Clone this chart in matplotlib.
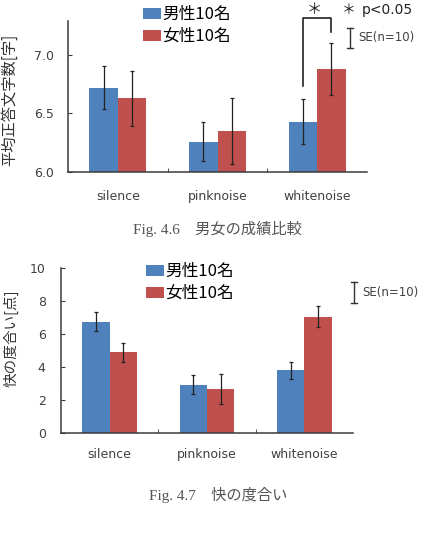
"""Recreate Fig. 4.6 / 4.7: gender comparison bar charts with SE error bars."""

import matplotlib

matplotlib.use("Agg")
import matplotlib.pyplot as plt
from matplotlib.lines import Line2D
import numpy as np

plt.rcParams["font.family"] = ["DejaVu Sans", "Noto Sans CJK JP"]

conditions = ["silence", "pinknoise", "whitenoise"]
groups = ["男性10名", "女性10名"]

# Fig. 4.6 mean correct characters
score_male = [6.72, 6.26, 6.43]
score_male_se = [0.18, 0.17, 0.19]
score_female = [6.63, 6.35, 6.88]
score_female_se = [0.235, 0.28, 0.22]

# Fig. 4.7 comfort level
comfort_male = [6.75, 2.92, 3.81]
comfort_male_se = [0.58, 0.57, 0.52]
comfort_female = [4.89, 2.64, 7.06]
comfort_female_se = [0.59, 0.92, 0.62]

BLUE = "#4F81BD"
RED = "#C0504D"
AXIS = "#3a3a3a"
TEXT = "#404040"
W, H = 428, 536


def fx(px):
    return px / W


def fy(py):
    return 1 - py / H


def bar_panel(ax, male, male_se, female, female_se, width, ylim, yticks, yfmt):
    x = np.arange(len(conditions))
    err_kw = dict(ecolor="#222222", elinewidth=0.9, capsize=1.6, capthick=0.9)
    ax.bar(x - width / 2, male, width, color=BLUE, label=groups[0], zorder=2)
    ax.bar(x + width / 2, female, width, color=RED, label=groups[1], zorder=2)
    for xs, ys, es in ((x - width / 2, male, male_se), (x + width / 2, female, female_se)):
        _, caps, bars = ax.errorbar(xs, ys, yerr=es, fmt="none", zorder=3, **err_kw)
        for art in list(caps) + list(bars):
            art.set_clip_on(False)
    ax.set_xlim(-0.5, 2.5)
    ax.set_ylim(*ylim)
    ax.set_yticks(yticks)
    ax.set_yticklabels([yfmt.format(v) for v in yticks])
    ax.set_xticks(x)
    ax.set_xticklabels(conditions)
    ax.set_xticks([0.5, 1.5], minor=True)
    for side in ("top", "right"):
        ax.spines[side].set_visible(False)
    for side in ("left", "bottom"):
        ax.spines[side].set_color(AXIS)
        ax.spines[side].set_linewidth(1.1)
    ax.tick_params(axis="x", which="major", length=0, labelsize=9, colors=TEXT)
    ax.tick_params(axis="x", which="minor", direction="in", length=3, color=AXIS)
    ax.tick_params(axis="y", direction="in", length=3, color=AXIS, labelsize=9, labelcolor=TEXT)


def se_marker(fig, x, y0, y1, label):
    cap = 3.0
    for xs, ys in (([x, x], [y0, y1]), ([x - cap, x + cap], [y0, y0]), ([x - cap, x + cap], [y1, y1])):
        fig.add_artist(Line2D([fx(v) for v in xs], [fy(v) for v in ys],
                              transform=fig.transFigure, color="#333333", lw=1.0))
    fig.text(fx(x + 8), fy((y0 + y1) / 2), label, fontsize=8.5, color=TEXT, va="center", ha="left")


fig = plt.figure(figsize=(W / 100, H / 100), dpi=100)

# --- Fig. 4.6 ---
ax1 = fig.add_axes([fx(68), fy(172), fx(367 - 68), (172 - 20.7) / H])
bar_panel(ax1, score_male, score_male_se, score_female, score_female_se,
          0.285, (6.0, 7.29), [6.0, 6.5, 7.0], "{:.1f}")
ax1.tick_params(axis="x", pad=13)
ax1.tick_params(axis="y", pad=10)
ax1.set_ylabel("平均正答文字数[字]", fontsize=11, color="#333333",
               family=["Noto Sans CJK JP", "DejaVu Sans"])
ax1.yaxis.set_label_coords(-0.167, 0.479)
ax1.legend(loc="upper left", bbox_to_anchor=(fx(143), fy(6)), bbox_transform=fig.transFigure,
           frameon=False, handlelength=1.05, handleheight=0.65,
           handletextpad=0.12, labelspacing=0.3, borderpad=0, borderaxespad=0,
           prop={"family": ["Noto Sans CJK JP"], "size": 12})

# significance bracket between whitenoise bars
wx = 2
ax1.plot([wx - 0.1425, wx - 0.1425, wx + 0.1425, wx + 0.1425], [6.73, 7.31, 7.31, 7.19],
         color="#222222", lw=1.2, clip_on=False)
fig.text(fx(314), fy(9), "＊", fontsize=11, ha="center", va="center", color="#222222",
         family=["Noto Sans CJK JP"])
fig.text(fx(342), fy(10), "＊", fontsize=10, ha="left", va="center", color="#222222",
         family=["Noto Sans CJK JP"])
fig.text(fx(362), fy(10), "p<0.05", fontsize=10, ha="left", va="center", color="#222222")
se_marker(fig, 350, 28, 48, "SE(n=10)")

fig.text(fx(217.5), fy(229), "Fig. 4.6　男女の成績比較", fontsize=11, ha="center", va="center",
         color="#555555", family=["Liberation Serif", "Noto Sans CJK JP"])

# --- Fig. 4.7 ---
ax2 = fig.add_axes([fx(61), fy(432.7), fx(353 - 61), (432.7 - 268.3) / H])
bar_panel(ax2, comfort_male, comfort_male_se, comfort_female, comfort_female_se,
          0.28, (0, 10), [0, 2, 4, 6, 8, 10], "{:d}")
ax2.tick_params(axis="x", pad=11)
ax2.tick_params(axis="y", pad=11)
ax2.set_ylabel("快の度合い[点]", fontsize=10.5, color="#333333",
               family=["Noto Sans CJK JP", "DejaVu Sans"])
ax2.yaxis.set_label_coords(-0.147, 0.576)
ax2.legend(loc="upper left", bbox_to_anchor=(fx(146), fy(263)), bbox_transform=fig.transFigure,
           frameon=False, handlelength=1.05, handleheight=0.65,
           handletextpad=0.12, labelspacing=0.3, borderpad=0, borderaxespad=0,
           prop={"family": ["Noto Sans CJK JP"], "size": 12})
se_marker(fig, 354, 282, 303, "SE(n=10)")

fig.text(fx(218), fy(495), "Fig. 4.7　快の度合い", fontsize=11, ha="center", va="center",
         color="#555555", family=["Liberation Serif", "Noto Sans CJK JP"])

fig.savefig("out.png", dpi=100, facecolor="white")
plt.close(fig)
